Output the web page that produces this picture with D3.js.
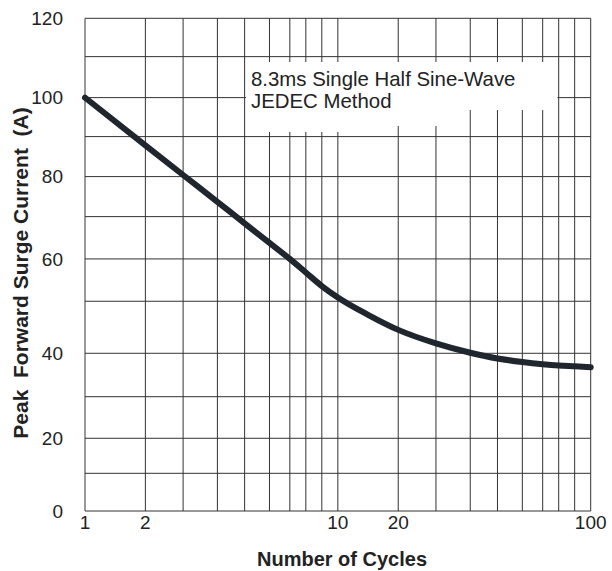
<!DOCTYPE html>
<html>
<head>
<meta charset="utf-8">
<script src="https://cdn.jsdelivr.net/npm/d3@7"></script>
<style>
  html, body { margin: 0; padding: 0; background: #fff; }
  svg { display: block; }
  text { font-family: "Liberation Sans", Arial, Helvetica, sans-serif; fill: #222; }
</style>
</head>
<body>
<svg id="chart" width="612" height="571"></svg>
<script>
// ---------------- DATA ----------------
const cycles  = [1, 2, 3, 4, 5, 6, 7, 8, 9, 10, 15, 20, 30, 40, 50, 60, 70, 80, 90, 100];
const current = [100, 87.8, 80.4, 73.7, 68.4, 63.8, 60, 56.8, 53.6, 50.9, 47.4, 44.5, 41.9, 40.1, 38.8, 38.0, 37.5, 37.2, 37.0, 36.8];

const xGridValues = [1, 2, 3, 4, 5, 6, 7, 8, 9, 10, 20, 30, 40, 50, 60, 70, 80, 90, 100];
const xTickLabels = [1, 2, 10, 20, 100];
const yGridValues = [0, 10, 20, 30, 40, 50, 60, 70, 80, 90, 100, 110, 120];
const yTickLabels = [0, 20, 40, 60, 80, 100, 120];

const xTitle = "Number of Cycles";
const yTitle = "Peak  Forward Surge Current  (A)";
const noteLines = ["8.3ms Single Half Sine-Wave", "JEDEC Method"];

// ---------------- LAYOUT ----------------
const plot = { left: 85, right: 590.7, top: 18.3, bottom: 511 };
// position of 1..10 within one decade (fraction of decade width), as drawn in the source grid
const decadeFrac = [0, 0.2388, 0.388, 0.5236, 0.6313, 0.7296, 0.8101, 0.8734, 0.9366, 1];
// position of the horizontal grid lines as fraction of plot height (from bottom), as drawn in the source grid
const yFrac = [0, 0.0765, 0.1476, 0.2320, 0.3201, 0.4257, 0.5116, 0.5975, 0.6787, 0.7599, 0.8390, 0.9222, 1];

const decadeW = (plot.right - plot.left) / 2;
const xDomain = [], xRange = [];
[1, 10].forEach((base, d) => {
  decadeFrac.forEach((f, i) => {
    if (d === 1 && i === 0) return;
    xDomain.push(base * (i + 1));
    xRange.push(plot.left + d * decadeW + f * decadeW);
  });
});
const x = d3.scaleLinear().domain(xDomain).range(xRange);
const y = d3.scaleLinear()
  .domain(yGridValues)
  .range(yFrac.map(f => plot.bottom - f * (plot.bottom - plot.top)));

const svg = d3.select("#chart");

// grid
const grid = svg.append("g").attr("stroke", "#333").attr("stroke-width", 1).attr("fill", "none");
grid.selectAll("line.v").data(xGridValues).join("line")
  .attr("class", "v")
  .attr("x1", d => x(d)).attr("x2", d => x(d))
  .attr("y1", y(0)).attr("y2", y(120));
grid.selectAll("line.h").data(yGridValues).join("line")
  .attr("class", "h")
  .attr("x1", x(1)).attr("x2", x(100))
  .attr("y1", d => y(d)).attr("y2", d => y(d));

// annotation background (white patch over grid)
const noteBg = [[246, 62], [557.5, 62], [557.5, 110], [455, 110], [455, 126], [345, 126], [345, 132], [246, 132]];
svg.append("path")
  .attr("d", d3.line()(noteBg) + "Z")
  .attr("fill", "#fff");

svg.append("g").selectAll("text").data(noteLines).join("text")
  .attr("x", 251)
  .attr("y", (d, i) => 86 + i * 22)
  .attr("font-size", 20.4)
  .text(d => d);

// curve
svg.append("path")
  .datum(cycles.map((c, i) => [c, current[i]]))
  .attr("fill", "none")
  .attr("stroke", "#1f262e")
  .attr("stroke-width", 6)
  .attr("stroke-linecap", "round")
  .attr("stroke-linejoin", "round")
  .attr("d", d3.line().x(d => x(d[0])).y(d => y(d[1])).curve(d3.curveMonotoneX));

// y tick labels
svg.append("g").selectAll("text").data(yTickLabels).join("text")
  .attr("x", 63)
  .attr("y", d => y(d))
  .attr("dy", "0.36em")
  .attr("text-anchor", "end")
  .attr("font-size", 19)
  .text(d => d);

// x tick labels
svg.append("g").selectAll("text").data(xTickLabels).join("text")
  .attr("x", d => x(d))
  .attr("y", 529)
  .attr("text-anchor", "middle")
  .attr("font-size", 19)
  .text(d => d);

// axis titles
svg.append("text")
  .attr("x", 342)
  .attr("y", 566)
  .attr("text-anchor", "middle")
  .attr("font-size", 20)
  .attr("font-weight", "bold")
  .text(xTitle);

svg.append("text")
  .attr("transform", `translate(28, 273) rotate(-90)`)
  .attr("text-anchor", "middle")
  .attr("font-size", 21)
  .attr("font-weight", "bold")
  .style("white-space", "pre")
  .text(yTitle);
</script>
</body>
</html>
